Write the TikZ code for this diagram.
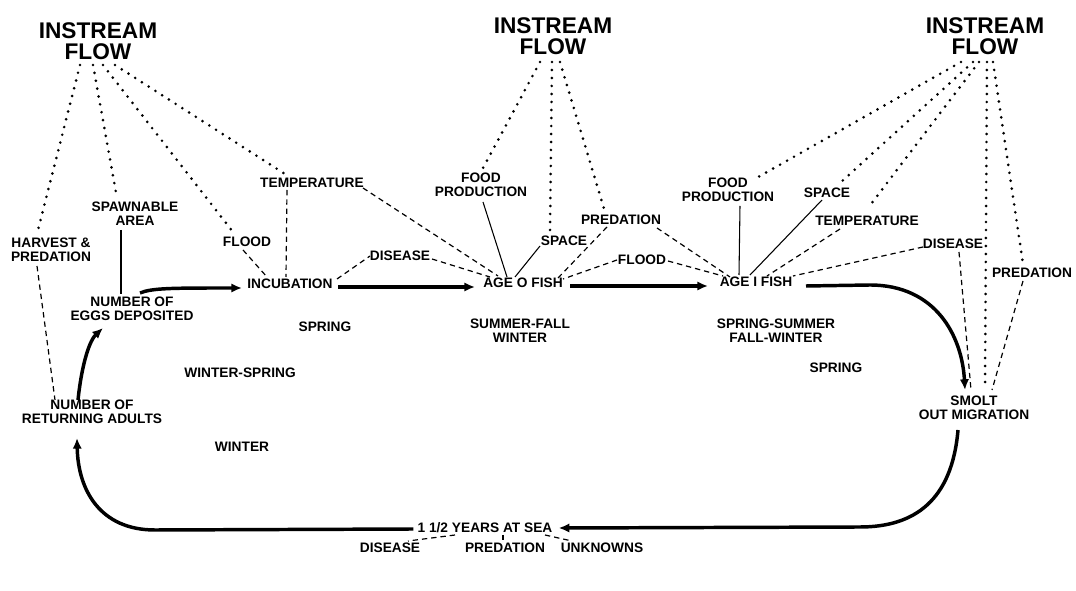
\documentclass[tikz,border=0pt]{standalone}
\usepackage{fontspec}
\setmainfont{Liberation Sans}
\usetikzlibrary{calc,arrows.meta}
\begin{document}
\begin{tikzpicture}[x=0.75pt,y=-0.75pt,
  lbl/.style={font=\fontsize{10.3pt}{10.5pt}\selectfont\bfseries, inner sep=0pt, align=center},
  big/.style={font=\fontsize{17pt}{15.5pt}\selectfont\bfseries, inner sep=0pt, align=center},
  dotl/.style={line width=2.2pt, line cap=round, dash pattern=on 0pt off 6pt},
  dashl/.style={line width=0.9pt, dash pattern=on 4pt off 3pt},
  thinl/.style={line width=0.8pt},
  flow/.style={line width=2.6pt, -{Latex[length=8pt,width=7pt]}},
]
\fill[white] (0,0) rectangle (1076,591);
\useasboundingbox (0,0) rectangle (1076,591);

% INSTREAM FLOW
\node[big] (IF1) at (98,41) {INSTREAM\\FLOW};
\node[big] (IF2) at (553,36) {INSTREAM\\FLOW};
\node[big] (IF3) at (985,36) {INSTREAM\\FLOW};

% labels
\node[lbl] (TL) at (312,183) {TEMPERATURE};
\node[lbl] (SPAWN) at (135,214) {SPAWNABLE\\AREA};
\node[lbl] (HARV) at (51,250) {HARVEST \&\\PREDATION};
\node[lbl] (FL) at (247,242) {FLOOD};
\node[lbl] (EGGS) at (132,309) {NUMBER OF\\EGGS DEPOSITED};
\node[lbl] (INC) at (290,284) {INCUBATION};
\node[lbl] (DL) at (400,256) {DISEASE};
\node[lbl] (FPM) at (481,185) {FOOD\\PRODUCTION};
\node[lbl] (SPM) at (564,241) {SPACE};
\node[lbl] (PRM) at (621,220) {PREDATION};
\node[lbl] (FLM) at (642,260) {FLOOD};
\node[lbl] (AGE0) at (523,283) {AGE O FISH};
\node[lbl] (AGE1) at (756,282) {AGE I FISH};
\node[lbl] (FPR) at (728,190) {FOOD\\PRODUCTION};
\node[lbl] (SPR) at (827,193) {SPACE};
\node[lbl] (TR) at (867,221) {TEMPERATURE};
\node[lbl] (DR) at (953,244) {DISEASE};
\node[lbl] (PRR) at (1032,273) {PREDATION};
\node[lbl] (SMOLT) at (974,408) {SMOLT\\OUT MIGRATION};
\node[lbl] (RET) at (92,412) {NUMBER OF\\RETURNING ADULTS};
\node[lbl] (SEA) at (485,528) {1 1/2 YEARS AT SEA};
\node[lbl] (DIS) at (390,548) {DISEASE};
\node[lbl] (PRED) at (505,548) {PREDATION};
\node[lbl] (UNK) at (602,548) {UNKNOWNS};

% seasons
\node[lbl] (S1) at (325,327) {SPRING};
\node[lbl] (S2) at (520,331) {SUMMER-FALL\\WINTER};
\node[lbl] (S3) at (776,331) {SPRING-SUMMER\\FALL-WINTER};
\node[lbl] (S4) at (836,368) {SPRING};
\node[lbl] (S5) at (240,373) {WINTER-SPRING};
\node[lbl] (S6) at (242,447) {WINTER};

% dotted from instream flow
\draw[dotl] ($(IF1)+(-18,24)$) -- ($(HARV)+(-13,-20)$);
\draw[dotl] ($(IF1)+(-5,24)$) -- ($(SPAWN)+(-18,-16)$);
\draw[dotl] ($(IF1)+(5,24)$) -- ($(FL)+(-14,-10)$);
\draw[dotl] ($(IF1)+(17,24)$) -- ($(TL)+(-27,-9)$);

\draw[dotl] ($(IF2)+(-13,26)$) -- ($(FPM)+(2,-17)$);
\draw[dotl] ($(IF2)+(-1,26)$) -- ($(SPM)+(-14,-9)$);
\draw[dotl] ($(IF2)+(7,26)$) -- ($(PRM)+(-16,-8)$);

\draw[dotl] ($(IF3)+(-24,26)$) -- ($(FPR)+(25,-10)$);
\draw[dotl] ($(IF3)+(-12,26)$) -- ($(SPR)+(13,-10)$);
\draw[dotl] ($(IF3)+(-6,26)$) -- ($(TR)+(1,-13)$);
\draw[dotl] ($(IF3)+(2,26)$) -- ($(SMOLT)+(11,-20)$);
\draw[dotl] ($(IF3)+(8,26)$) -- ($(PRR)+(-9,-9)$);

% factor lines
\draw[dashl] ($(HARV)+(-14,16)$) -- ($(RET)+(-37,-12)$);
\draw[thinl] ($(SPAWN)+(-14,16)$) -- ($(EGGS)+(-11,-15)$);
\draw[dashl] ($(FL)+(-4,8)$) -- ($(INC)+(-23,-7)$);
\draw[dashl] ($(TL)+(-25,7)$) -- ($(INC)+(-4,-7)$);
\draw[dashl] ($(TL)+(51,5)$) -- ($(AGE0)+(-25,-7)$);
\draw[dashl] ($(INC)+(47,-5)$) -- ($(DL)+(-30,0)$);
\draw[dashl] ($(DL)+(32,3)$) -- ($(AGE0)+(-33,-6)$);
\draw[thinl] ($(FPM)+(2,17)$) -- ($(AGE0)+(-16,-6)$);
\draw[thinl] ($(SPM)+(-24,5)$) -- ($(AGE0)+(-8,-6)$);
\draw[dashl] ($(PRM)+(-14,7)$) -- ($(AGE0)+(35,-5)$);
\draw[dashl] ($(FLM)+(-25,0)$) -- ($(AGE0)+(40,-4)$);
\draw[dashl] ($(PRM)+(36,8)$) -- ($(AGE1)+(-26,-5)$);
\draw[dashl] ($(FLM)+(26,1)$) -- ($(AGE1)+(-33,-6)$);
\draw[thinl] ($(FPR)+(12,16)$) -- ($(AGE1)+(-17,-7)$);
\draw[thinl] ($(SPR)+(-5,7)$) -- ($(AGE1)+(-6,-7)$);
\draw[dashl] ($(TR)+(-27,8)$) -- ($(AGE1)+(11,-6)$);
\draw[dashl] ($(DR)+(-30,3)$) -- ($(AGE1)+(37,-6)$);
\draw[dashl] ($(DR)+(6,8)$) -- ($(SMOLT)+(-3,-18)$);
\draw[dashl] ($(PRR)+(-9,8)$) -- ($(SMOLT)+(18,-18)$);

\draw[dashl] ($(SEA)+(-30,7)$) -- ($(DIS)+(18,-7)$);
\draw[dashl] ($(SEA)+(18,7)$) -- ($(PRED)+(-2,-7)$);
\draw[dashl] ($(SEA)+(60,7)$) -- ($(UNK)+(-30,-7)$);

% life cycle arrows
\draw[flow] ($(EGGS)+(8,-16)$) .. controls ($(EGGS)+(20,-21)$) and ($(EGGS)+(40,-21)$) .. ($(INC)+(-48,4)$);
\draw[flow] ($(INC)+(48,3)$) -- ($(AGE0)+(-48,4)$);
\draw[flow] ($(AGE0)+(47,3)$) -- ($(AGE1)+(-48,4)$);
\draw[flow] ($(AGE1)+(50,4)$) -- (870,285) .. controls (935,285) and (962,335) .. ($(SMOLT)+(-9,-18)$);
\draw[flow] ($(SMOLT)+(-16,22)$) .. controls (952,500) and (915,527) .. (860,527) -- ($(SEA.east)+(6,0)$);
\draw[flow] ($(SEA.west)+(-4,1)$) -- (155,530) .. controls (100,530) and (78,490) .. ($(RET)+(-15,26)$);
\draw[flow] ($(RET)+(-14,-12)$) .. controls ($(RET)+(-10,-50)$) and ($(RET)+(-2,-72)$) .. ($(EGGS)+(-29,19)$);
\end{tikzpicture}
\end{document}
